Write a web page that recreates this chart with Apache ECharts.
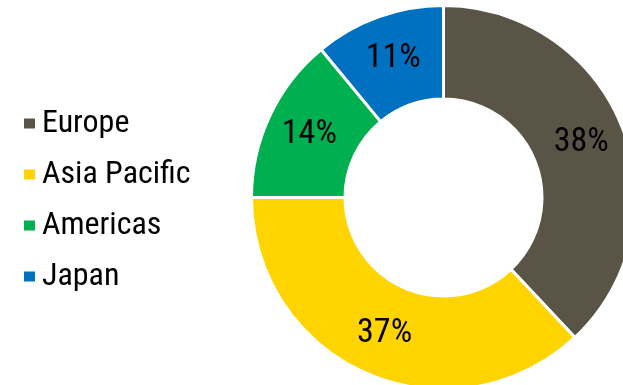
<!DOCTYPE html>
<html>
<head>
<meta charset="utf-8">
<script src="https://cdn.jsdelivr.net/npm/echarts@6/dist/echarts.min.js"></script>
<style>
html,body{margin:0;padding:0;background:#fff;}
#c{width:623px;height:385px;}
</style>
</head>
<body>
<div id="c"></div>
<script>
const categories = ['Europe', 'Asia Pacific', 'Americas', 'Japan'];
const values = [38, 37, 14, 11];
const colors = ['#5a5446', '#ffd400', '#00b050', '#0070c0'];
const FONT = '"Roboto Condensed", "Liberation Sans", sans-serif';

const chart = echarts.init(document.getElementById('c'), null, {renderer: 'canvas'});
chart.setOption({
  animation: false,
  backgroundColor: '#ffffff',
  legend: {
    orient: 'vertical',
    left: 17,
    top: 102.5,
    icon: 'rect',
    itemWidth: 13,
    itemHeight: 12,
    itemGap: 19,
    textStyle: {fontFamily: FONT, fontSize: 32, lineHeight: 32, color: '#000', padding: [0, 0, 0, 1]},
    data: categories
  },
  series: [{
    type: 'pie',
    center: [443.5, 197.5],
    radius: [98.5, 192],
    startAngle: 90,
    clockwise: true,
    avoidLabelOverlap: false,
    itemStyle: {borderColor: '#fff', borderWidth: 3},
    label: {
      show: true,
      position: 'inside',
      formatter: '{c}%',
      fontFamily: FONT,
      fontSize: 34,
      color: '#000'
    },
    labelLine: {show: false},
    emphasis: {disabled: true},
    data: categories.map((n, i) => ({name: n, value: values[i], itemStyle: {color: colors[i]}}))
  }]
});
</script>
</body>
</html>
